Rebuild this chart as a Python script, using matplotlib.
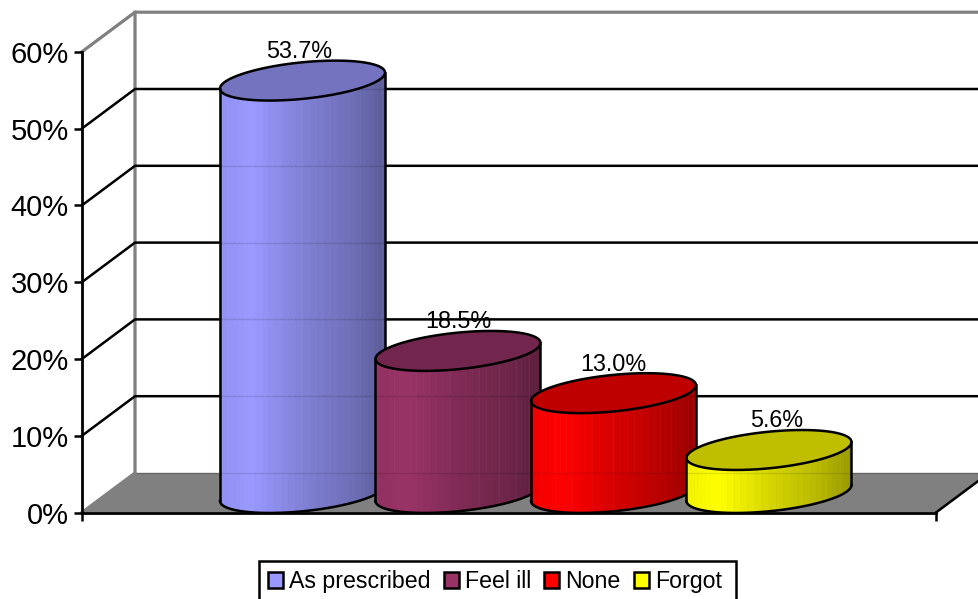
import matplotlib
matplotlib.use("Agg")
import matplotlib.pyplot as plt
import numpy as np
from matplotlib.patches import Patch, Polygon, Rectangle

categories = ["As prescribed", "Feel ill", "None", "Forgot"]
values = [53.7, 18.5, 13.0, 5.6]
colors = ["#9999FF", "#993366", "#FF0000", "#FFFF00"]
tick_values = [0, 10, 20, 30, 40, 50, 60]
tick_labels = ["0%", "10%", "20%", "30%", "40%", "50%", "60%"]

plt.rcParams["font.family"] = ["Liberation Sans", "DejaVu Sans"]

# x axis is in image pixels, y axis is in percent
PX = 1 / 7.68
depth_x = 53
depth_y = 39.5 * PX
x_left, x_right = 82, 936
x_first, x_step = 302.5, 155.5
radius = 82.5
tilt = 8 * PX
half_h = 18.3 * PX
base_y = 19.5 * PX
label_dx = [-3, 0, 0, 8]
line_w = 1.8
grey = "#808080"


def shade(col, f):
    return tuple(np.clip(np.array(matplotlib.colors.to_rgb(col)) * f, 0, 1))


def ring(cx, cy, t):
    return cx + radius * np.cos(t), cy + tilt * np.cos(t) + half_h * np.sin(t)


def cylinder(cx, val, col, z):
    top = base_y + val
    t = np.linspace(np.pi, 2 * np.pi, 37)
    bx, by = ring(cx, base_y, t)
    tx, ty = ring(cx, top, t)
    for i in range(len(t) - 1):
        s = ((bx[i] + bx[i + 1]) / 2 - (cx - radius)) / (2 * radius)
        f = np.interp(s, [0, 0.2, 0.5, 0.8, 1], [0.95, 1, 0.84, 0.72, 0.6])
        c = shade(col, f)
        pts = [(bx[i], by[i]), (bx[i + 1], by[i + 1]), (tx[i + 1], ty[i + 1]), (tx[i], ty[i])]
        ax.add_patch(Polygon(pts, closed=True, fc=c, ec=c, lw=0.5, zorder=z))
        if i % 3 == 2:
            ax.plot([bx[i + 1]] * 2, [by[i + 1], ty[i + 1]], color="white", alpha=0.28, lw=0.8, zorder=z)
    # faint seams where the wall grid crosses the body
    for g in tick_values:
        yg = g + depth_y
        if yg < top:
            ax.plot([cx - radius, cx + radius], [yg, yg], color="black", alpha=0.1, lw=1, zorder=z)
    t_all = np.linspace(0, 2 * np.pi, 200)
    ox, oy = ring(cx, top, t_all)
    ax.add_patch(Polygon(np.c_[ox, oy], closed=True, fc=shade(col, 0.75), ec="black", lw=line_w, zorder=z + 0.1))
    ax.plot([bx[0], tx[0]], [by[0], ty[0]], color="black", lw=line_w, zorder=z + 0.1)
    ax.plot([bx[-1], tx[-1]], [by[-1], ty[-1]], color="black", lw=line_w, zorder=z + 0.1)
    ax.plot(bx, by, color="black", lw=line_w, zorder=z + 0.1)


fig = plt.figure(figsize=(9.79, 5.99), dpi=100)
ax = fig.add_axes([0, 0, 1, 1])
ax.set_xlim(0, 979)
ax.set_ylim(-86.5 * PX, 512.5 * PX)

# floor and walls
ax.add_patch(Polygon([(x_left, 0), (x_left + depth_x, depth_y), (x_right + depth_x, depth_y), (x_right, 0)],
                     closed=True, fc=grey, ec="none", zorder=1))
ax.plot([x_left + depth_x, 979], [depth_y, depth_y], color="#666666", lw=1, zorder=1.1)
ax.plot([x_left, x_left + depth_x, x_left + depth_x], [0, depth_y, 60 + depth_y], color=grey, lw=line_w + 0.5, zorder=1.2)
ax.plot([x_left, x_left + depth_x, 979], [60, 60 + depth_y, 60 + depth_y], color=grey, lw=line_w + 0.5, zorder=1.2)
ax.plot([x_right, x_right + depth_x], [0, depth_y], color="black", lw=line_w, zorder=1.2)
for g in tick_values[1:-1]:
    ax.plot([x_left, x_left + depth_x, 979], [g, g + depth_y, g + depth_y], color="black", lw=line_w, zorder=1.3)

# axes
for side in ["top", "right"]:
    ax.spines[side].set_visible(False)
ax.spines["left"].set_position(("data", x_left))
ax.spines["left"].set_bounds(0, 60)
ax.spines["bottom"].set_position(("data", 0))
ax.spines["bottom"].set_bounds(x_left, x_right)
ax.spines["left"].set_linewidth(line_w + 0.2)
ax.spines["bottom"].set_linewidth(line_w + 0.2)
ax.set_yticks(tick_values)
ax.set_yticklabels(tick_labels, fontsize=21, va="center_baseline")
ax.set_xticks([x_left, x_right])
ax.set_xticklabels(["", ""])
ax.tick_params(axis="y", length=5.5, width=line_w, pad=4)
ax.tick_params(axis="x", length=5.5, width=line_w)
ax.patch.set_visible(False)

for i, (name, val, col) in enumerate(zip(categories, values, colors)):
    cx = x_first + i * x_step
    cylinder(cx, val, col, 3 + i)
    ax.text(cx + label_dx[i], val + base_y + 29 * PX, "%.1f%%" % val, fontsize=16.8,
            ha="center", va="center", zorder=8)

# legend box runs off the bottom of the picture
ax.add_patch(Rectangle((259, (512.5 - 640) * PX), 477, 79 * PX, fc="white", ec="black", lw=line_w, zorder=8.9))
handles = [Patch(facecolor=c, edgecolor="black", linewidth=line_w, label=n) for n, c in zip(categories, colors)]
leg = ax.legend(handles=handles, ncol=4, loc="upper left", bbox_to_anchor=(259, (512.5 - 561) * PX),
                bbox_transform=ax.transData, borderaxespad=0, fontsize=16.7, frameon=False,
                handlelength=0.65, handleheight=0.65,
                handletextpad=0.26, columnspacing=0.56, borderpad=0.4)
leg.set_zorder(9)

fig.savefig("out.png", dpi=100)
